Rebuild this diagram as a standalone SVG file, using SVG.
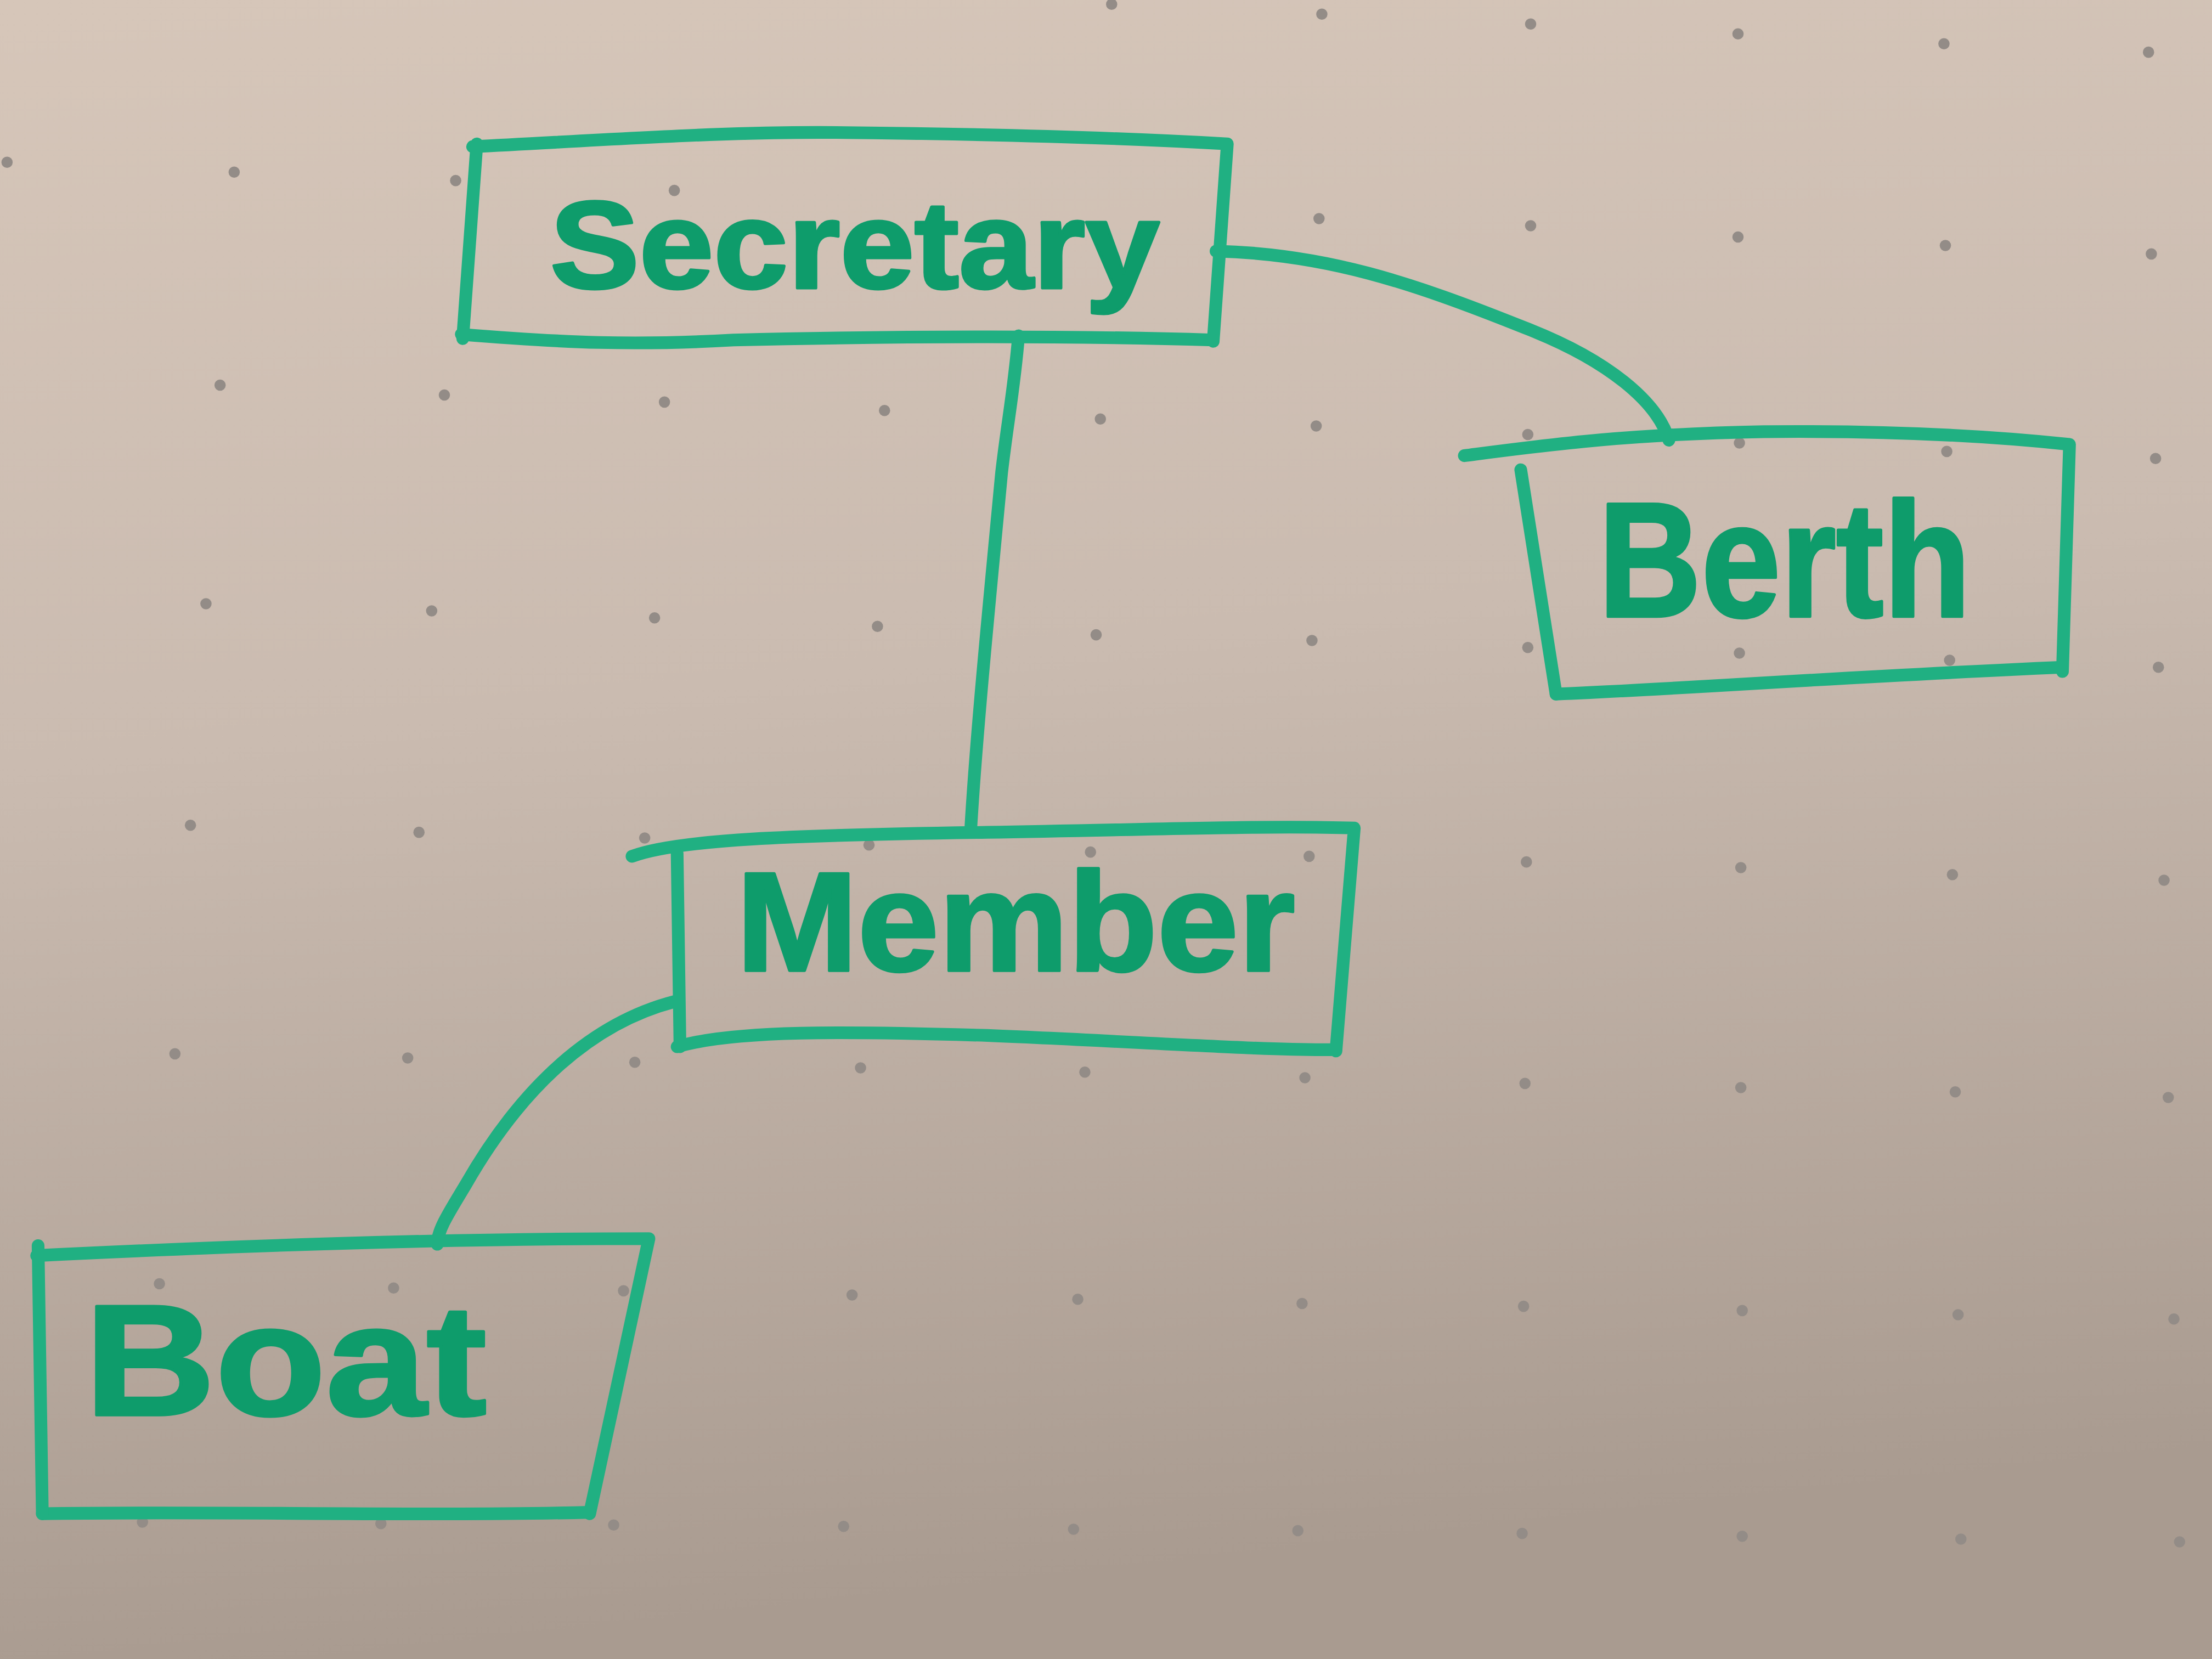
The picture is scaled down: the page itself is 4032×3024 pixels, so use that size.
<svg xmlns="http://www.w3.org/2000/svg" width="4032" height="3024" viewBox="0 0 4032 3024">
<defs>
<linearGradient id="bg" x1="0" y1="0" x2="0.15" y2="1">
<stop offset="0" stop-color="#d6c6b9"/>
<stop offset="0.45" stop-color="#cabbb0"/>
<stop offset="1" stop-color="#a99b90"/>
</linearGradient>
<style>
.ln{fill:none;stroke:#20b082;stroke-width:9;stroke-linecap:round;stroke-linejoin:round}
.lbl{font-family:"Liberation Sans",Arial,sans-serif;font-weight:bold;fill:#0e9c6b;stroke:#0e9c6b;stroke-width:2;stroke-linejoin:round}
.dot{fill:#938c87}
</style>
</defs>
<rect width="4032" height="3024" fill="url(#bg)"/>
<g transform="scale(2.571429)">
<g id="dots">
<circle class="dot" cx="788" cy="3" r="4"/><circle class="dot" cx="937" cy="10" r="4"/><circle class="dot" cx="1085" cy="17" r="4"/><circle class="dot" cx="1232" cy="24" r="4"/><circle class="dot" cx="1378" cy="31" r="4"/><circle class="dot" cx="1523" cy="37" r="4"/>
<circle class="dot" cx="5" cy="115" r="4"/><circle class="dot" cx="166" cy="122" r="4"/><circle class="dot" cx="323" cy="128" r="4"/><circle class="dot" cx="478" cy="135" r="4"/><circle class="dot" cx="935" cy="155" r="4"/><circle class="dot" cx="1085" cy="160" r="4"/><circle class="dot" cx="1232" cy="168" r="4"/><circle class="dot" cx="1379" cy="174" r="4"/><circle class="dot" cx="1525" cy="180" r="4"/>
<circle class="dot" cx="156" cy="273" r="4"/><circle class="dot" cx="315" cy="280" r="4"/><circle class="dot" cx="471" cy="285" r="4"/><circle class="dot" cx="627" cy="291" r="4"/><circle class="dot" cx="780" cy="297" r="4"/><circle class="dot" cx="933" cy="302" r="4"/><circle class="dot" cx="1083" cy="308" r="4"/><circle class="dot" cx="1233" cy="314" r="4"/><circle class="dot" cx="1380" cy="320" r="4"/><circle class="dot" cx="1528" cy="325" r="4"/>
<circle class="dot" cx="146" cy="428" r="4"/><circle class="dot" cx="306" cy="433" r="4"/><circle class="dot" cx="464" cy="438" r="4"/><circle class="dot" cx="622" cy="444" r="4"/><circle class="dot" cx="777" cy="450" r="4"/><circle class="dot" cx="930" cy="454" r="4"/><circle class="dot" cx="1083" cy="459" r="4"/><circle class="dot" cx="1233" cy="463" r="4"/><circle class="dot" cx="1382" cy="468" r="4"/><circle class="dot" cx="1530" cy="473" r="4"/>
<circle class="dot" cx="135" cy="585" r="4"/><circle class="dot" cx="297" cy="590" r="4"/><circle class="dot" cx="457" cy="594" r="4"/><circle class="dot" cx="616" cy="599" r="4"/><circle class="dot" cx="773" cy="604" r="4"/><circle class="dot" cx="928" cy="607" r="4"/><circle class="dot" cx="1082" cy="611" r="4"/><circle class="dot" cx="1234" cy="615" r="4"/><circle class="dot" cx="1384" cy="620" r="4"/><circle class="dot" cx="1534" cy="624" r="4"/>
<circle class="dot" cx="124" cy="747" r="4"/><circle class="dot" cx="289" cy="750" r="4"/><circle class="dot" cx="450" cy="753" r="4"/><circle class="dot" cx="610" cy="757" r="4"/><circle class="dot" cx="769" cy="760" r="4"/><circle class="dot" cx="925" cy="764" r="4"/><circle class="dot" cx="1081" cy="768" r="4"/><circle class="dot" cx="1234" cy="771" r="4"/><circle class="dot" cx="1386" cy="774" r="4"/><circle class="dot" cx="1537" cy="778" r="4"/>
<circle class="dot" cx="113" cy="910" r="4"/><circle class="dot" cx="279" cy="913" r="4"/><circle class="dot" cx="442" cy="915" r="4"/><circle class="dot" cx="604" cy="918" r="4"/><circle class="dot" cx="764" cy="921" r="4"/><circle class="dot" cx="923" cy="924" r="4"/><circle class="dot" cx="1080" cy="926" r="4"/><circle class="dot" cx="1235" cy="929" r="4"/><circle class="dot" cx="1388" cy="932" r="4"/><circle class="dot" cx="1541" cy="935" r="4"/>
<circle class="dot" cx="101" cy="1079" r="4"/><circle class="dot" cx="270" cy="1080" r="4"/><circle class="dot" cx="435" cy="1081" r="4"/><circle class="dot" cx="598" cy="1082" r="4"/><circle class="dot" cx="761" cy="1084" r="4"/><circle class="dot" cx="920" cy="1085" r="4"/><circle class="dot" cx="1079" cy="1087" r="4"/><circle class="dot" cx="1235" cy="1089" r="4"/><circle class="dot" cx="1390" cy="1091" r="4"/><circle class="dot" cx="1545" cy="1093" r="4"/>
</g>
<g id="connectors">
<path class="ln" d="M722,238 C719,275 714,300 710,335 C702,420 692,520 688,590"/>
<path class="ln" d="M862,178 C940,180 1000,200 1080,232 C1140,255 1175,285 1183,312"/>
<path class="ln" d="M478,710 C420,725 370,770 330,840 C318,860 310,872 310,882"/>
</g>
<g id="secretary">
<path class="ln" d="M335,104 C450,98 520,93 600,94 C700,95 800,98 870,102 L860,242"/>
<path class="ln" d="M327,237 C400,243 450,245 520,241 C650,238 760,238 860,241"/>
<path class="ln" d="M338,102 L328,240"/>
<text class="lbl" x="390" y="204" font-size="88" textLength="432" lengthAdjust="spacingAndGlyphs">Secretary</text>
</g>
<g id="berth">
<path class="ln" d="M1038,323 C1100,315 1150,308 1250,306 C1350,305 1420,310 1467,315 L1462,476"/>
<path class="ln" d="M1103,492 C1200,488 1300,480 1462,473"/>
<path class="ln" d="M1078,333 L1103,492"/>
<text class="lbl" x="1133" y="437" font-size="116" textLength="264" lengthAdjust="spacingAndGlyphs">Berth</text>
</g>
<g id="member">
<path class="ln" d="M448,607 C480,595 560,592 700,590 C820,588 900,585 960,587 L947,745"/>
<path class="ln" d="M480,742 C520,730 600,731 700,734 C800,738 900,745 947,744"/>
<path class="ln" d="M480,605 L482,742"/>
<text class="lbl" x="522" y="688" font-size="100" textLength="396" lengthAdjust="spacingAndGlyphs">Member</text>
</g>
<g id="boat">
<path class="ln" d="M26,890 C150,884 300,878 460,878 L418,1073"/>
<path class="ln" d="M30,1073 C150,1071 300,1075 418,1072"/>
<path class="ln" d="M27,883 L30,1073"/>
<text class="lbl" x="60" y="1003" font-size="112" textLength="285" lengthAdjust="spacingAndGlyphs">Boat</text>
</g>
</g>
</svg>
